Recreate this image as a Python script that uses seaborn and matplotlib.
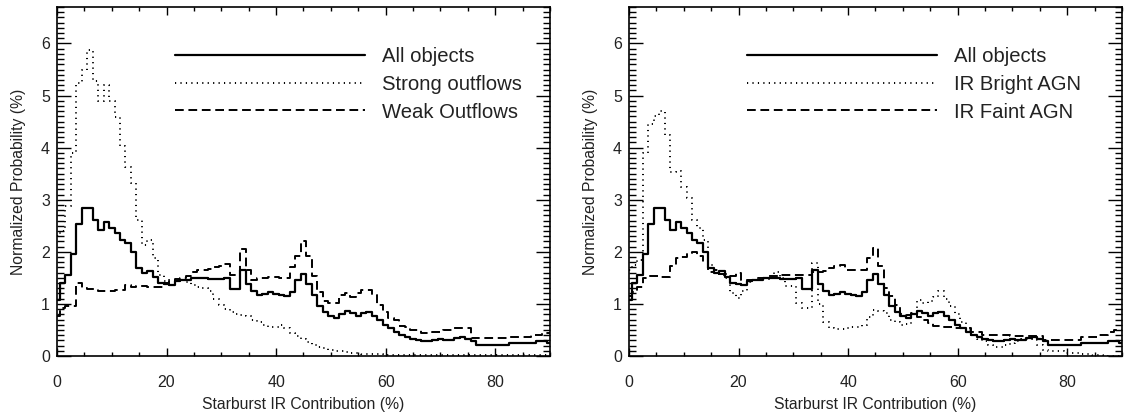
import numpy as np
import seaborn as sns
import matplotlib.pyplot as plt
from matplotlib.ticker import MultipleLocator

# bin centres (Starburst IR contribution, %)
x = list(range(0, 91))

all_objects = [
    1.08, 1.40, 1.56, 1.95, 2.54, 2.84, 2.85, 2.62, 2.41, 2.58,
    2.46, 2.36, 2.23, 2.17, 2.00, 1.69, 1.59, 1.64, 1.51, 1.40,
    1.38, 1.37, 1.43, 1.45, 1.45, 1.49, 1.49, 1.49, 1.47, 1.47,
    1.48, 1.49, 1.29, 1.28, 1.65, 1.38, 1.24, 1.17, 1.19, 1.22,
    1.19, 1.17, 1.15, 1.22, 1.46, 1.58, 1.38, 1.17, 0.96, 0.85,
    0.77, 0.72, 0.81, 0.87, 0.82, 0.77, 0.83, 0.85, 0.77, 0.69,
    0.60, 0.53, 0.47, 0.40, 0.37, 0.33, 0.31, 0.29, 0.29, 0.31,
    0.32, 0.31, 0.31, 0.35, 0.36, 0.32, 0.28, 0.22, 0.21, 0.21,
    0.21, 0.21, 0.21, 0.24, 0.24, 0.24, 0.24, 0.24, 0.29, 0.28,
    0.25,
]

strong_outflows = [
    2.30, 2.40, 2.87, 3.90, 5.24, 5.50, 5.87, 5.27, 4.89, 5.21,
    4.89, 4.59, 4.03, 3.63, 3.32, 2.62, 2.13, 2.22, 1.88, 1.56,
    1.43, 1.46, 1.47, 1.45, 1.42, 1.36, 1.33, 1.30, 1.24, 1.10,
    0.98, 0.90, 0.84, 0.80, 0.79, 0.76, 0.70, 0.65, 0.60, 0.56,
    0.56, 0.60, 0.54, 0.45, 0.38, 0.32, 0.26, 0.22, 0.18, 0.15,
    0.12, 0.10, 0.09, 0.07, 0.06, 0.05, 0.04, 0.03, 0.03, 0.03,
    0.02, 0.02, 0.02, 0.02, 0.02, 0.02, 0.02, 0.02, 0.02, 0.02,
    0.02, 0.01, 0.01, 0.01, 0.01, 0.01, 0.01, 0.01, 0.01, 0.01,
    0.01, 0.01, 0.01, 0.01, 0.01, 0.01, 0.01, 0.01, 0.01, 0.01,
    0.01,
]

weak_outflows = [
    0.76, 0.92, 0.95, 0.95, 1.40, 1.30, 1.28, 1.28, 1.24, 1.24,
    1.24, 1.27, 1.27, 1.37, 1.32, 1.35, 1.35, 1.33, 1.33, 1.32,
    1.40, 1.43, 1.47, 1.49, 1.53, 1.62, 1.65, 1.66, 1.67, 1.70,
    1.73, 1.76, 1.56, 1.56, 2.06, 1.65, 1.46, 1.49, 1.49, 1.51,
    1.51, 1.49, 1.49, 1.70, 1.92, 2.20, 1.92, 1.53, 1.22, 1.05,
    1.01, 1.01, 1.17, 1.20, 1.14, 1.20, 1.27, 1.27, 1.17, 0.98,
    0.85, 0.72, 0.69, 0.58, 0.56, 0.50, 0.50, 0.45, 0.45, 0.47,
    0.47, 0.49, 0.49, 0.53, 0.53, 0.53, 0.34, 0.34, 0.34, 0.34,
    0.34, 0.34, 0.34, 0.37, 0.37, 0.37, 0.37, 0.40, 0.40, 0.45,
    0.45,
]

ir_bright = [
    1.65, 1.75, 1.85, 3.90, 4.45, 4.60, 4.70, 4.25, 3.53, 3.55,
    3.25, 3.03, 2.62, 2.46, 2.22, 1.75, 1.59, 1.55, 1.49, 1.20,
    1.11, 1.25, 1.42, 1.46, 1.47, 1.48, 1.50, 1.62, 1.50, 1.35,
    1.35, 1.02, 0.92, 0.92, 1.79, 1.00, 0.66, 0.53, 0.51, 0.52,
    0.53, 0.55, 0.56, 0.60, 0.75, 0.88, 0.86, 0.82, 0.69, 0.65,
    0.60, 0.62, 0.80, 1.08, 1.01, 1.05, 1.14, 1.24, 1.10, 0.95,
    0.80, 0.66, 0.50, 0.40, 0.32, 0.28, 0.22, 0.18, 0.18, 0.21,
    0.25, 0.28, 0.32, 0.32, 0.30, 0.21, 0.12, 0.10, 0.10, 0.09,
    0.06, 0.06, 0.05, 0.03, 0.03, 0.02, 0.01, 0.00, 0.00, 0.00,
    0.00,
]

ir_faint = [
    1.15, 1.22, 1.32, 1.49, 1.53, 1.53, 1.52, 1.51, 1.72, 1.88,
    1.90, 1.97, 2.00, 1.91, 1.81, 1.62, 1.65, 1.58, 1.58, 1.54,
    1.59, 1.45, 1.46, 1.46, 1.49, 1.49, 1.54, 1.54, 1.56, 1.55,
    1.56, 1.56, 1.56, 1.56, 1.62, 1.62, 1.64, 1.69, 1.72, 1.75,
    1.65, 1.65, 1.65, 1.65, 1.88, 2.07, 1.72, 1.30, 1.15, 0.98,
    0.80, 0.79, 0.82, 0.75, 0.70, 0.63, 0.58, 0.58, 0.56, 0.56,
    0.54, 0.53, 0.53, 0.47, 0.47, 0.40, 0.40, 0.40, 0.40, 0.40,
    0.38, 0.38, 0.38, 0.38, 0.38, 0.38, 0.31, 0.31, 0.31, 0.31,
    0.31, 0.31, 0.31, 0.36, 0.36, 0.36, 0.40, 0.40, 0.47, 0.50,
    0.50,
]

panels = [
    ("Strong outflows", strong_outflows, "Weak Outflows", weak_outflows),
    ("IR Bright AGN", ir_bright, "IR Faint AGN", ir_faint),
]

sns.set_style("ticks")
plt.rcParams["font.family"] = ["Liberation Sans", "DejaVu Sans"]
plt.rcParams["text.color"] = "#222222"
plt.rcParams["axes.labelcolor"] = "#222222"
plt.rcParams["xtick.color"] = "black"
plt.rcParams["ytick.color"] = "black"
plt.rcParams["xtick.labelcolor"] = "#222222"
plt.rcParams["ytick.labelcolor"] = "#222222"

fig = plt.figure(figsize=(11.24, 4.19), dpi=100)
axes = [
    fig.add_axes([0.0507, 0.1504, 0.4386, 0.8329]),
    fig.add_axes([0.5596, 0.1504, 0.4386, 0.8329]),
]

dotted = (0, (0.6, 2.2))
dashed = (0, (4.5, 2.4))

for ax, (lab_b, ser_b, lab_c, ser_c) in zip(axes, panels):
    sns.lineplot(x=x, y=all_objects, ax=ax, color="black", lw=1.6,
                 drawstyle="steps-mid", label="All objects")
    sns.lineplot(x=x, y=ser_b, ax=ax, color="black", lw=1.4,
                 linestyle=dotted, drawstyle="steps-mid", label=lab_b)
    sns.lineplot(x=x, y=ser_c, ax=ax, color="black", lw=1.4,
                 linestyle=dashed, drawstyle="steps-mid", label=lab_c)

    ax.set_xlim(0, 90)
    ax.set_ylim(0, 6.7)
    ax.xaxis.set_major_locator(MultipleLocator(20))
    ax.xaxis.set_minor_locator(MultipleLocator(5))
    ax.yaxis.set_major_locator(MultipleLocator(1))
    ax.yaxis.set_minor_locator(MultipleLocator(0.1))
    ax.tick_params(which="both", direction="in", top=True, right=True, width=1)
    ax.tick_params(axis="x", which="major", length=6, pad=14, labelsize=11.5)
    ax.tick_params(axis="x", which="minor", length=3)
    ax.tick_params(axis="y", which="major", length=10, pad=5, labelsize=11.5)
    ax.tick_params(axis="y", which="minor", length=5)
    for sp in ax.spines.values():
        sp.set_linewidth(1.2)
        sp.set_color("black")

    ax.set_xlabel("Starburst IR Contribution (%)", fontsize=11.3, labelpad=5)
    ax.set_ylabel("Normalized Probability (%)", fontsize=11.3, labelpad=11)

    handles, labels = ax.get_legend_handles_labels()
    ax.legend(handles, labels, loc="upper left", bbox_to_anchor=(0.239, 0.884),
              frameon=False, fontsize=14.6, handlelength=9.4,
              handletextpad=0.84, labelspacing=0.42, borderpad=0,
              borderaxespad=0)

plt.savefig("out.png", dpi=100)
